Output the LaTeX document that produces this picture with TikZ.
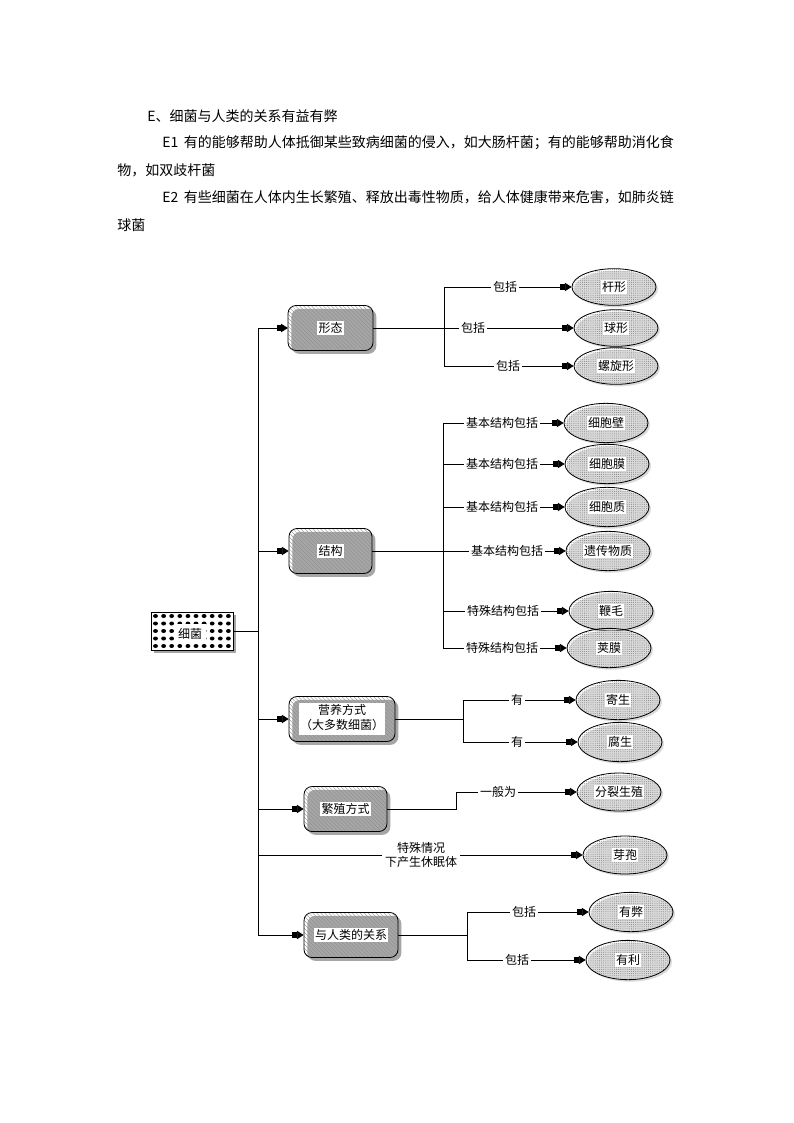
\documentclass[tikz,border=0pt]{standalone}
\usepackage{fontspec}
\setmainfont{Noto Sans CJK SC}
\usetikzlibrary{arrows.meta,patterns.meta,shapes.geometric,shadows}
\newcommand{\wbox}[1]{{\setlength{\fboxsep}{1pt}\colorbox{white}{#1}}}
\tikzset{
  conn/.style={line width=0.6pt},
  arr/.style={conn,-{Rectangle[length=3.5pt,width=3.8pt]Triangle[length=5pt,width=6.2pt]}},
  hbox/.style={draw,line width=0.6pt,rounded corners=6pt,
    pattern={Lines[angle=-45,distance=2.1pt,line width=0.25pt]},pattern color=black!45,
    general shadow={fill=black!35,shadow xshift=2.5pt,shadow yshift=-2.5pt},
    minimum height=33.75pt,inner sep=0pt,font=\fontsize{9pt}{11pt}\selectfont},
  oval/.style={ellipse,draw,line width=0.6pt,
    pattern={Dots[distance=1.6pt,radius=0.32pt]},pattern color=black!55,
    general shadow={fill=black!15,shadow xshift=1.5pt,shadow yshift=-1.5pt},
    minimum width=63pt,minimum height=28.5pt,inner sep=0pt,font=\fontsize{9pt}{11pt}\selectfont},
  lab/.style={fill=white,inner sep=1.5pt,font=\fontsize{9pt}{11pt}\selectfont},
  txt/.style={anchor=west,inner sep=0pt,font=\fontsize{10.5pt}{13pt}\selectfont},
}
\begin{document}
\begin{tikzpicture}[x=0.75pt,y=-0.75pt]
\useasboundingbox[fill=white] (0,0) rectangle (793,1123);

% top text
\node[txt] (p1) at (147,116) {E、细菌与人类的关系有益有弊};
\node[txt] (p2) at (162,143) {E1\hspace{0.4em}有的能够帮助人体抵御某些致病细菌的侵入，如大肠杆菌；有的能够帮助消化食};
\node[txt] (p3) at (117,170) {物，如双歧杆菌};
\node[txt] (p4) at (162,197) {E2\hspace{0.4em}有些细菌在人体内生长繁殖、释放出毒性物质，给人体健康带来危害，如肺炎链};
\node[txt] (p5) at (117,225) {球菌};

% root
\node[draw,line width=0.6pt,fill=white,minimum width=61.5pt,minimum height=28.5pt,inner sep=0pt,
  general shadow={fill=black!35,shadow xshift=2.5pt,shadow yshift=-2.5pt}] (root) at (192,631) {};
\foreach \i in {0,...,9}{\foreach \j in {0,...,4}{
  \fill (155.5+8.1*\i,616+7.5*\j) ellipse (1.8pt and 1.5pt);}}
\node[inner sep=0pt,font=\fontsize{9pt}{11pt}\selectfont] (roott) at (190,634) {{\setlength{\fboxsep}{3pt}\colorbox{white}{细菌}}};

% trunk coordinates
\coordinate (tA) at (258,328);
\coordinate (tB) at (258,551);
\coordinate (tC) at (258,719);
\coordinate (tD) at (258,809);
\coordinate (tE) at (258,855);
\coordinate (tF) at (258,935);
\coordinate (t0) at (258,631);

% second level boxes
\node[hbox,minimum width=63.75pt] (xt) at (330.5,328) {\wbox{形态}};
\node[hbox,minimum width=62.25pt] (jg) at (330.5,551) {\wbox{结构}};
\node[hbox,minimum width=79.5pt] (yy) at (342,719) {\wbox{\begin{tabular}{@{}c@{}}营养方式\\（大多数细菌）\end{tabular}}};
\node[hbox,minimum width=62.25pt] (fz) at (345.5,809) {\wbox{繁殖方式}};
\node[hbox,minimum width=70.5pt] (rl) at (351,935) {\wbox{与人类的关系}};

% trunk
\draw[conn] (tA) -- (tF);
\draw[conn] (root.east) -- (t0);
\draw[arr] (tA) -- (xt.west);
\draw[arr] (tB) -- (jg.west);
\draw[arr] (tC) -- (yy.west);
\draw[arr] (tD) -- (fz.west);
\draw[arr] (tF) -- (rl.west);

% ellipses
\node[oval,minimum height=27.5pt] (e11) at (614,287) {\wbox{杆形}};
\node[oval,minimum height=27.5pt] (e12) at (616,328) {\wbox{球形}};
\node[oval,minimum height=27.5pt] (e13) at (616,366) {\wbox{螺旋形}};
\node[oval,minimum height=29.5pt] (e21) at (606,423) {\wbox{细胞壁}};
\node[oval,minimum height=29.5pt] (e22) at (607,464) {\wbox{细胞膜}};
\node[oval,minimum height=29.5pt] (e23) at (607,507) {\wbox{细胞质}};
\node[oval,minimum height=29.5pt] (e24) at (608,551) {\wbox{遗传物质}};
\node[oval,minimum height=29.5pt] (e25) at (611,611) {\wbox{鞭毛}};
\node[oval,minimum height=29.5pt] (e26) at (609,648) {\wbox{荚膜}};
\node[oval,minimum height=29.5pt] (e31) at (618,700) {\wbox{寄生}};
\node[oval,minimum height=29.5pt] (e32) at (620,742) {\wbox{腐生}};
\node[oval,minimum height=28.5pt] (e41) at (619,792) {\wbox{分裂生殖}};
\node[oval,minimum height=28.5pt] (e51) at (625,855) {\wbox{芽孢}};
\node[oval,minimum height=29.5pt] (e61) at (631,912) {\wbox{有弊}};
\node[oval,minimum height=29.5pt] (e62) at (628,960) {\wbox{有利}};

% 形态 branch
\coordinate (j1) at (444,328);
\coordinate (j1a) at (444,287);
\coordinate (j1c) at (444,366);
\draw[conn] (xt.east) -- (j1);
\draw[conn] (j1a) -- (j1c);
\draw[arr] (j1a) -- (e11.west);
\draw[arr] (j1) -- (e12.west);
\draw[arr] (j1c) -- (e13.west);
\node[lab] (l11) at (505,287) {包括};
\node[lab] (l12) at (473,328) {包括};
\node[lab] (l13) at (508,366) {包括};

% 结构 branch
\coordinate (j2) at (443,551);
\coordinate (j2a) at (443,423);
\coordinate (j2b) at (443,464);
\coordinate (j2c) at (443,507);
\coordinate (j2e) at (443,611);
\coordinate (j2f) at (443,648);
\draw[conn] (jg.east) -- (j2);
\draw[conn] (j2a) -- (j2f);
\draw[arr] (j2a) -- (e21.west);
\draw[arr] (j2b) -- (e22.west);
\draw[arr] (j2c) -- (e23.west);
\draw[arr] (j2) -- (e24.west);
\draw[arr] (j2e) -- (e25.west);
\draw[arr] (j2f) -- (e26.west);
\node[lab] (l21) at (502,423) {基本结构包括};
\node[lab] (l22) at (502,464) {基本结构包括};
\node[lab] (l23) at (502,507) {基本结构包括};
\node[lab] (l24) at (507,551) {基本结构包括};
\node[lab] (l25) at (503,611) {特殊结构包括};
\node[lab] (l26) at (502,648) {特殊结构包括};

% 营养方式 branch
\coordinate (j3) at (463,719);
\coordinate (j3a) at (463,700);
\coordinate (j3b) at (463,742);
\draw[conn] (yy.east) -- (j3);
\draw[conn] (j3a) -- (j3b);
\draw[arr] (j3a) -- (e31.west);
\draw[arr] (j3b) -- (e32.west);
\node[lab] (l31) at (517,700) {有};
\node[lab] (l32) at (517,742) {有};

% 繁殖方式 branch
\coordinate (k1) at (456,809);
\draw[arr] (fz.east) -- (k1) |- (e41.west);
\node[lab] (l41) at (498,792) {一般为};

% 芽孢
\draw[arr] (tE) -- (e51.west);
\node[lab,align=center,inner sep=2pt] (l51) at (421,855) {特殊情况\\下产生休眠体};

% 与人类的关系 branch
\coordinate (j6) at (467,935);
\coordinate (j6a) at (467,912);
\coordinate (j6b) at (467,960);
\draw[conn] (rl.east) -- (j6);
\draw[conn] (j6a) -- (j6b);
\draw[arr] (j6a) -- (e61.west);
\draw[arr] (j6b) -- (e62.west);
\node[lab] (l61) at (524,912) {包括};
\node[lab] (l62) at (517,960) {包括};
\end{tikzpicture}
\end{document}
